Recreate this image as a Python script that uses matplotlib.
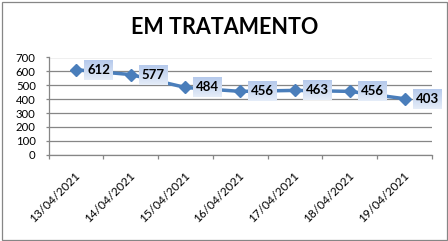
import matplotlib
matplotlib.use('Agg')
import matplotlib.pyplot as plt
import numpy as np
from matplotlib.patches import Rectangle
from matplotlib.transforms import ScaledTranslation

# Data
dates = ['13/04/2021', '14/04/2021', '15/04/2021', '16/04/2021',
         '17/04/2021', '18/04/2021', '19/04/2021']
values = [612, 577, 484, 456, 463, 456, 403]
yticks = [0, 100, 200, 300, 400, 500, 600, 700]

W, H = 448, 241
plt.rcParams['font.family'] = ['Lato', 'DejaVu Sans']

fig = plt.figure(figsize=(W / 100, H / 100), dpi=100)
fig.patch.set_facecolor('white')

# outer chart border
fig.patches.append(Rectangle((1.5 / W, 1.5 / H), 445 / W, 237.5 / H,
                             transform=fig.transFigure, fill=False,
                             edgecolor='#868686', lw=0.9))

ax = fig.add_axes([48.5 / W, 86.3 / H, 383.5 / W, 97.2 / H])
x = np.arange(len(values))
ax.plot(x, values, color='#4a7ebb', lw=2.5, marker='D', markersize=6.5,
        zorder=3, clip_on=False)

ax.set_xlim(-0.5, len(values) - 0.5)
ax.set_ylim(0, 700)
ax.set_yticks(yticks)
ax.yaxis.grid(True, color='#868686', lw=0.9)
ax.set_axisbelow(True)
for s in ['top', 'right']:
    ax.spines[s].set_visible(False)
for s in ['left', 'bottom']:
    ax.spines[s].set_color('#868686')
    ax.spines[s].set_linewidth(0.9)

ax.tick_params(axis='y', length=2.2, width=0.9, color='#868686', pad=7,
               labelsize=8.2, labelcolor='black')
# tick marks on category boundaries, labels at centres
ax.set_xticks(np.arange(len(values) + 1) - 0.5, minor=True)
ax.set_xticks(x)
ax.set_xticklabels(dates, rotation=45, ha='right', va='center',
                   rotation_mode='anchor', fontsize=8.6)
ax.tick_params(axis='x', which='major', length=0, pad=14)
ax.tick_params(axis='x', which='minor', length=3.2, width=0.9,
               color='#868686')
for lab in ax.get_xticklabels():
    lab.set_transform(lab.get_transform() +
                      ScaledTranslation(2.5 / 100, 0, fig.dpi_scale_trans))

fig.text(224.5 / W, 1 - 27.5 / H, 'EM TRATAMENTO', ha='center', va='center',
         fontsize=15.5, fontweight='bold')

# gradient label boxes
bw, bh = 29, 20
top = np.array([182, 202, 236]) / 255
bot = np.array([228, 236, 248]) / 255
t = np.linspace(0, 1, bh)[:, None, None]
grad = np.repeat(top * (1 - t) + bot * t, bw, axis=1)
for i, v in enumerate(values):
    px, py = ax.transData.transform((i, v))
    xo = int(round(px + 8))
    yo = int(round(py - bh / 2))
    fig.figimage(grad, xo=xo, yo=yo, origin='upper', zorder=2)
    fig.text((xo + bw / 2) / W, (yo + bh / 2) / H, str(v), ha='center',
             va='center', fontsize=9.5, fontweight='bold', zorder=5)

fig.savefig('out.png', dpi=100)
